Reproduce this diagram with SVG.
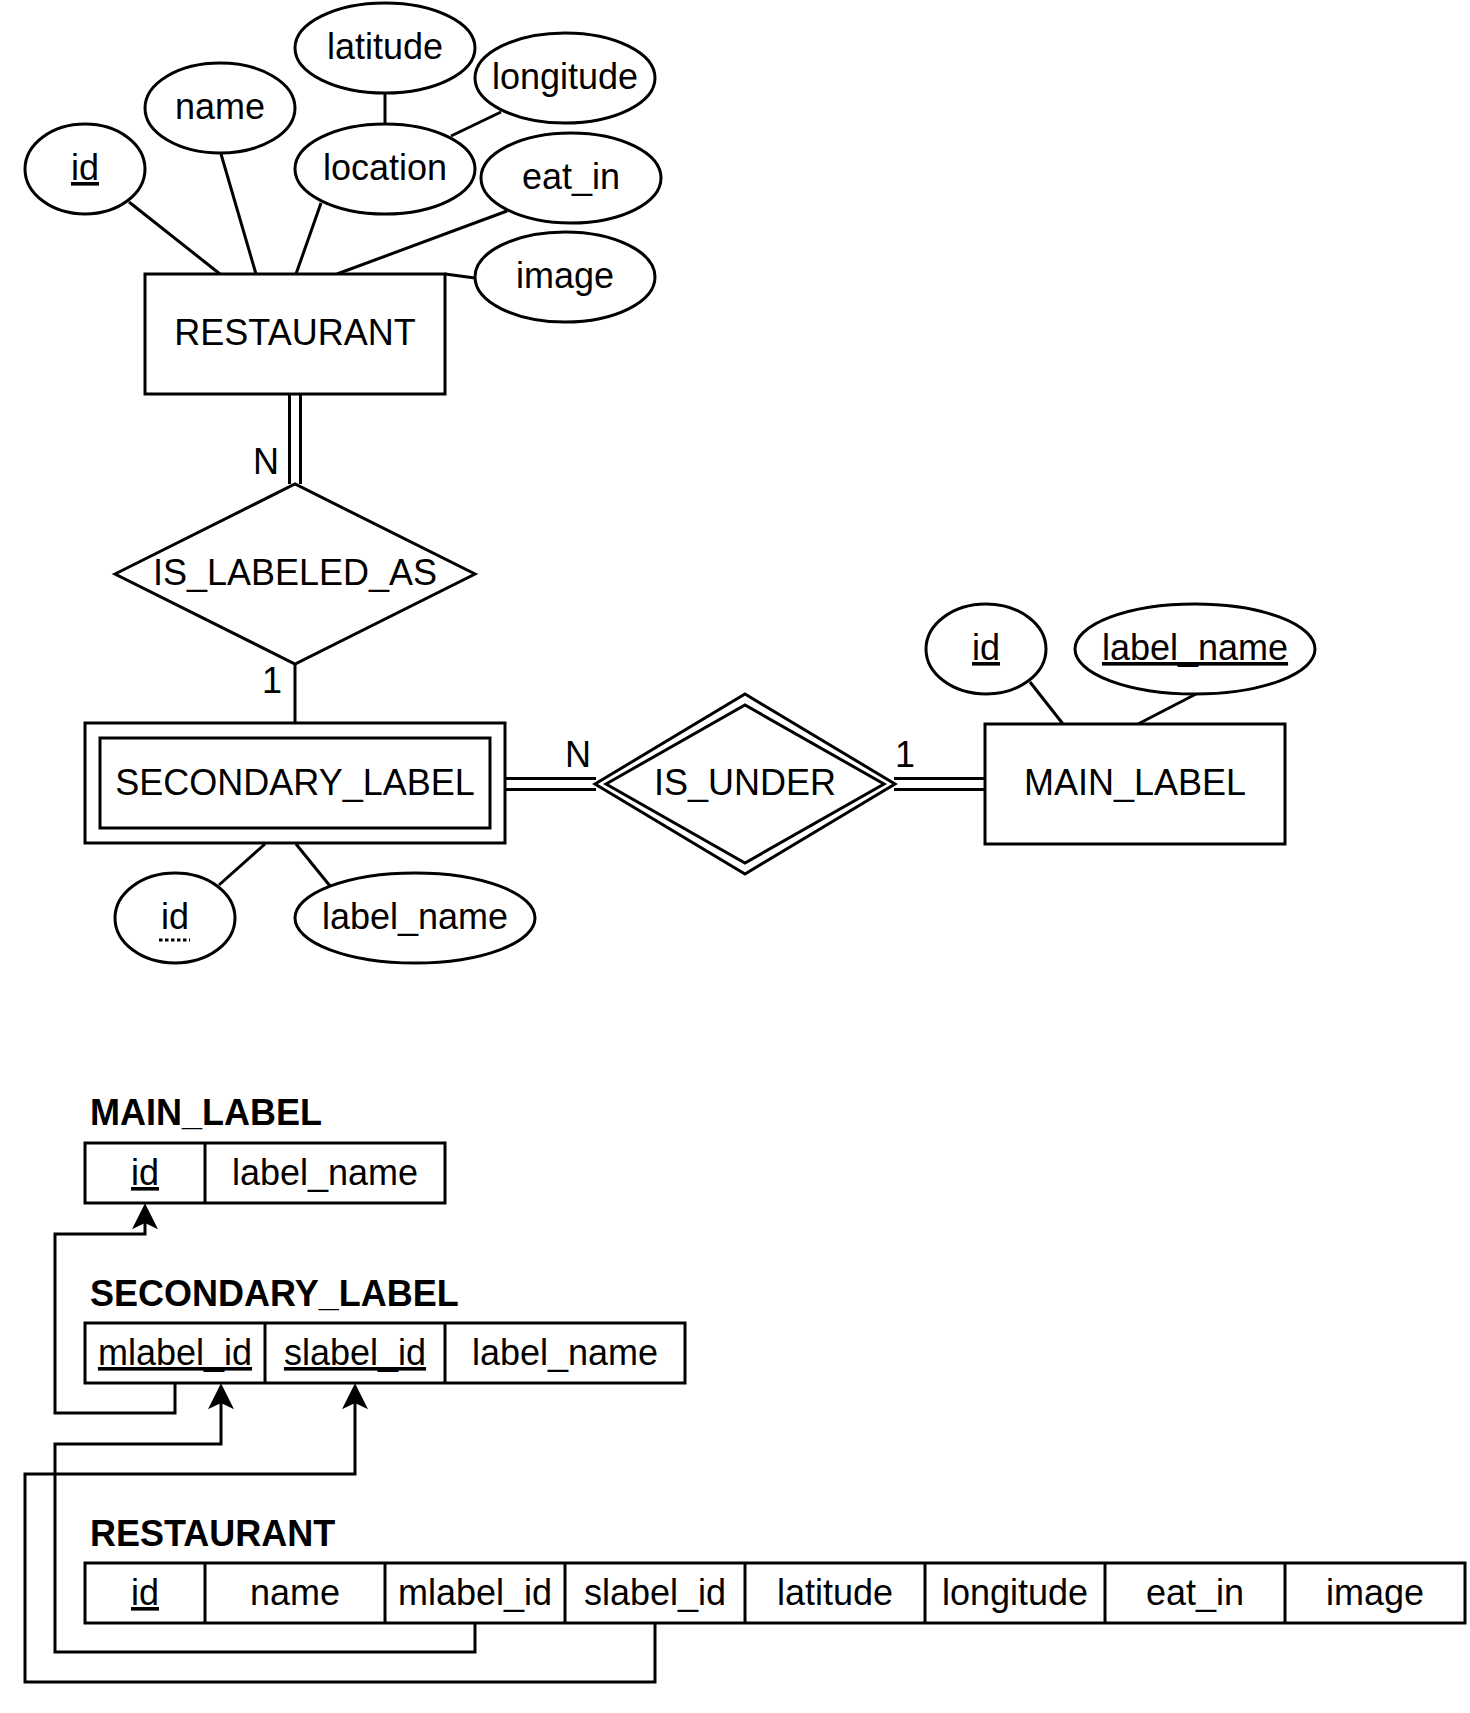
<svg xmlns="http://www.w3.org/2000/svg" width="1470" height="1713" viewBox="0 0 1470 1713">
<defs>
<style>
.s{fill:#fff;stroke:#000;stroke-width:3}
.ln{fill:none;stroke:#000;stroke-width:3;stroke-linejoin:miter}
.t{font-family:"Liberation Sans",Arial,Helvetica,sans-serif;font-size:36px;text-anchor:middle;fill:#000}
.b{font-weight:bold;text-anchor:start}
.u{text-decoration:underline}
</style>
<marker id="arr" markerUnits="userSpaceOnUse" markerWidth="26" markerHeight="26" viewBox="0 0 25 25" refX="6" refY="12.5" orient="auto">
<path d="M25,12.5 L0,0 L6,12.5 L0,25 Z" fill="#000"/>
</marker>
</defs>
<rect x="0" y="0" width="1470" height="1713" fill="#fff"/>

<g id="connectors">
<line class="ln" x1="129" y1="202" x2="220" y2="274"/>
<line class="ln" x1="221" y1="154" x2="256" y2="274"/>
<line class="ln" x1="321" y1="203" x2="296" y2="274"/>
<line class="ln" x1="385" y1="93" x2="385" y2="124"/>
<line class="ln" x1="501" y1="112" x2="451" y2="136"/>
<line class="ln" x1="507" y1="211" x2="337" y2="274"/>
<line class="ln" x1="445" y1="274" x2="475" y2="278"/>
<line class="ln" x1="289.5" y1="394" x2="289.5" y2="484"/>
<line class="ln" x1="300.5" y1="394" x2="300.5" y2="484"/>
<line class="ln" x1="295" y1="664" x2="295" y2="723"/>
<line class="ln" x1="505" y1="778.5" x2="596" y2="778.5"/>
<line class="ln" x1="505" y1="789.5" x2="596" y2="789.5"/>
<line class="ln" x1="894" y1="778.5" x2="985" y2="778.5"/>
<line class="ln" x1="894" y1="789.5" x2="985" y2="789.5"/>
<line class="ln" x1="265" y1="844" x2="219" y2="885"/>
<line class="ln" x1="296" y1="844" x2="330" y2="886"/>
<line class="ln" x1="1030" y1="682" x2="1063" y2="724"/>
<line class="ln" x1="1196" y1="694" x2="1138" y2="724"/>
<text class="t" x="266" y="474">N</text>
<text class="t" x="272" y="693">1</text>
<text class="t" x="578" y="767">N</text>
<text class="t" x="905" y="767">1</text>
<path class="ln" d="M175,1383 V1413 H55 V1234 H145 V1223" marker-end="url(#arr)"/>
<path class="ln" d="M475,1623 V1652 H55 V1444 H221 V1403" marker-end="url(#arr)"/>
<path class="ln" d="M655,1623 V1682 H25 V1474 H355 V1403" marker-end="url(#arr)"/>
</g>

<g id="restaurant">
<rect class="s" x="145" y="274" width="300" height="120"/>
<text class="t" x="295" y="345">RESTAURANT</text>
</g>
<g id="attr-restaurant-id">
<ellipse class="s" cx="85" cy="169" rx="60" ry="45"/>
<text class="t u" x="85" y="180">id</text>
</g>
<g id="attr-restaurant-name">
<ellipse class="s" cx="220" cy="108" rx="75" ry="45"/>
<text class="t" x="220" y="119">name</text>
</g>
<g id="attr-restaurant-latitude">
<ellipse class="s" cx="385" cy="48" rx="90" ry="45"/>
<text class="t" x="385" y="59">latitude</text>
</g>
<g id="attr-restaurant-longitude">
<ellipse class="s" cx="565" cy="78" rx="90" ry="45"/>
<text class="t" x="565" y="89">longitude</text>
</g>
<g id="attr-restaurant-location">
<ellipse class="s" cx="385" cy="169" rx="90" ry="45"/>
<text class="t" x="385" y="180">location</text>
</g>
<g id="attr-restaurant-eat_in">
<ellipse class="s" cx="571" cy="178" rx="90" ry="45"/>
<text class="t" x="571" y="189">eat_in</text>
</g>
<g id="attr-restaurant-image">
<ellipse class="s" cx="565" cy="277" rx="90" ry="45"/>
<text class="t" x="565" y="288">image</text>
</g>

<g id="is_labeled_as">
<polygon class="s" points="115,574 295,484 475,574 295,664"/>
<text class="t" x="295" y="585">IS_LABELED_AS</text>
</g>

<g id="secondary_label">
<rect class="s" x="85" y="723" width="420" height="120"/>
<rect class="s" x="100" y="738" width="390" height="90"/>
<text class="t" x="295" y="795">SECONDARY_LABEL</text>
</g>
<g id="attr-secondary-id">
<ellipse class="s" cx="175" cy="918" rx="60" ry="45"/>
<text class="t" x="175" y="929">id</text>
<line x1="159" y1="940" x2="190" y2="940" stroke="#000" stroke-width="3" stroke-dasharray="3.5 2.5"/>
</g>
<g id="attr-secondary-label_name">
<ellipse class="s" cx="415" cy="918" rx="120" ry="45"/>
<text class="t" x="415" y="929">label_name</text>
</g>

<g id="is_under">
<polygon class="s" points="595,784 745,694 895,784 745,874"/>
<polygon class="s" points="606,784 745,705 884,784 745,863"/>
<text class="t" x="745" y="795">IS_UNDER</text>
</g>

<g id="main_label">
<rect class="s" x="985" y="724" width="300" height="120"/>
<text class="t" x="1135" y="795">MAIN_LABEL</text>
</g>
<g id="attr-main-id">
<ellipse class="s" cx="986" cy="649" rx="60" ry="45"/>
<text class="t u" x="986" y="660">id</text>
</g>
<g id="attr-main-label_name">
<ellipse class="s" cx="1195" cy="649" rx="120" ry="45"/>
<text class="t u" x="1195" y="660">label_name</text>
</g>

<g id="table-main_label">
<text class="t b" x="90" y="1125">MAIN_LABEL</text>
<rect class="s" x="85" y="1143" width="360" height="60"/>
<line class="ln" x1="205" y1="1143" x2="205" y2="1203"/>
<text class="t u" x="145" y="1185">id</text>
<text class="t" x="325" y="1185">label_name</text>
</g>

<g id="table-secondary_label">
<text class="t b" x="90" y="1306">SECONDARY_LABEL</text>
<rect class="s" x="85" y="1323" width="600" height="60"/>
<line class="ln" x1="265" y1="1323" x2="265" y2="1383"/>
<line class="ln" x1="445" y1="1323" x2="445" y2="1383"/>
<text class="t u" x="175" y="1365">mlabel_id</text>
<text class="t u" x="355" y="1365">slabel_id</text>
<text class="t" x="565" y="1365">label_name</text>
</g>

<g id="table-restaurant">
<text class="t b" x="90" y="1546">RESTAURANT</text>
<rect class="s" x="85" y="1563" width="1380" height="60"/>
<line class="ln" x1="205" y1="1563" x2="205" y2="1623"/>
<line class="ln" x1="385" y1="1563" x2="385" y2="1623"/>
<line class="ln" x1="565" y1="1563" x2="565" y2="1623"/>
<line class="ln" x1="745" y1="1563" x2="745" y2="1623"/>
<line class="ln" x1="925" y1="1563" x2="925" y2="1623"/>
<line class="ln" x1="1105" y1="1563" x2="1105" y2="1623"/>
<line class="ln" x1="1285" y1="1563" x2="1285" y2="1623"/>
<text class="t u" x="145" y="1605">id</text>
<text class="t" x="295" y="1605">name</text>
<text class="t" x="475" y="1605">mlabel_id</text>
<text class="t" x="655" y="1605">slabel_id</text>
<text class="t" x="835" y="1605">latitude</text>
<text class="t" x="1015" y="1605">longitude</text>
<text class="t" x="1195" y="1605">eat_in</text>
<text class="t" x="1375" y="1605">image</text>
</g>
</svg>
